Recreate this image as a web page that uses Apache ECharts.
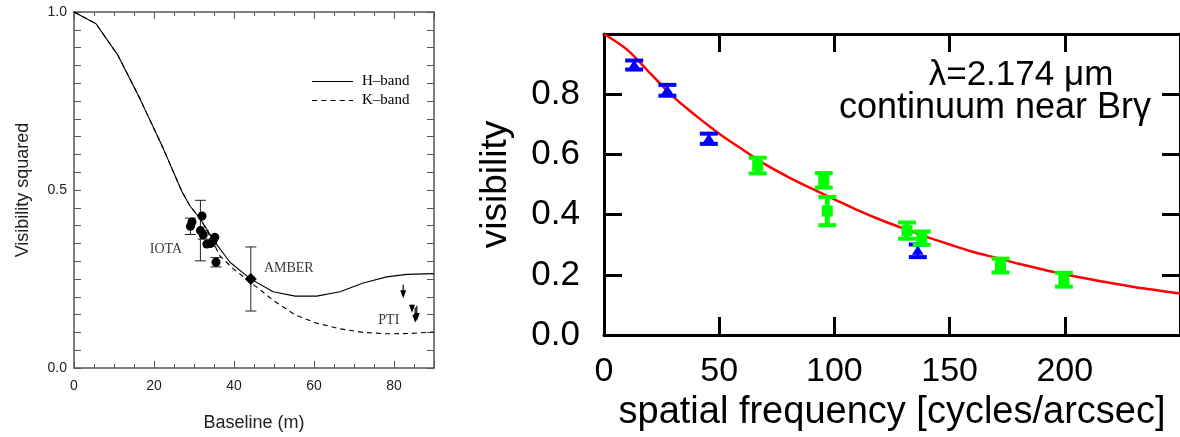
<!DOCTYPE html>
<html>
<head>
<meta charset="utf-8">
<script src="https://cdn.jsdelivr.net/npm/echarts@6/dist/echarts.min.js"></script>
<style>
html,body{margin:0;padding:0;background:#fff;}
#chart{width:1180px;height:437px;}
</style>
</head>
<body>
<div id="chart"></div>
<script>
// ---------- Left panel: visibility squared vs baseline ----------
const hBandBaseline = [0, 5.5, 11, 16.5, 22.3, 24.8, 27.0, 29.0, 31.5, 35, 39, 44, 49.8, 55.3, 60.7, 66.5, 72.3, 78.2, 83.2, 90];
const hBandV2       = [1.0, 0.967, 0.878, 0.756, 0.617, 0.552, 0.495, 0.455, 0.42, 0.357, 0.297, 0.251, 0.214, 0.202, 0.202, 0.214, 0.239, 0.256, 0.263, 0.265];
const kBandBaseline = [0, 5.5, 11, 16.5, 22.3, 24.8, 27.0, 29.0, 31.5, 33.5, 36.5, 39.8, 44, 49.8, 55.3, 60.7, 66.5, 72.3, 78.2, 84, 90];
const kBandV2       = [1.0, 0.967, 0.878, 0.756, 0.617, 0.552, 0.495, 0.455, 0.42, 0.38, 0.315, 0.279, 0.242, 0.19, 0.149, 0.126, 0.11, 0.1, 0.096, 0.097, 0.101];

const iotaBaseline = [29.1, 29.5, 31.6, 32.0, 32.3, 33.2, 34.2, 34.7, 35.2, 35.5];
const iotaV2       = [0.398, 0.41, 0.386, 0.427, 0.374, 0.348, 0.35, 0.356, 0.367, 0.297];
const iotaErr      = [0.023, 0, 0.085, 0, 0.012, 0, 0.008, 0, 0, 0.013];

const amberBaseline = [44.2];
const amberV2       = [0.25];
const amberErr      = [0.09];

const ptiBaseline = [82.3, 84.5, 85.3, 85.7];
const ptiTop      = [0.234, 0.178, 0.170, 0.175];
const ptiLimit    = [0.196, 0.155, 0.127, 0.132];

const leftLabels = ['IOTA', 'AMBER', 'PTI'];
const leftLabelX = [23, 53.7, 78.7];
const leftLabelY = [0.333, 0.281, 0.135];

// ---------- Right panel: visibility vs spatial frequency ----------
const fitFreq = [0, 10, 20, 30, 40, 50, 60, 70, 80, 90, 100, 110, 120, 130, 140, 150, 160, 170, 180, 190, 200, 210, 220, 230, 240, 250];
const fitVis  = [1.0, 0.948, 0.87, 0.792, 0.728, 0.669, 0.617, 0.567, 0.525, 0.487, 0.451, 0.415, 0.383, 0.354, 0.326, 0.301, 0.277, 0.257, 0.237, 0.219, 0.202, 0.187, 0.173, 0.160, 0.149, 0.138];

const blueFreq = [13.1, 27.5, 45.5, 136.2];
const blueVis  = [0.897, 0.813, 0.652, 0.28];
const blueErr  = [0.015, 0.018, 0.017, 0.021];

const greenFreq = [66.7, 95.4, 96.9, 131.5, 137.9, 172.1, 199.6];
const greenVis  = [0.563, 0.514, 0.412, 0.347, 0.322, 0.231, 0.184];
const greenErr  = [0.026, 0.024, 0.047, 0.027, 0.022, 0.023, 0.023];

const annotLine1 = 'λ=2.174 μm';
const annotLine2 = 'continuum near Brγ';

// ---------- helpers ----------
const SANS = 'Liberation Sans, Arial, sans-serif';
const SERIF = 'Liberation Serif, Times New Roman, serif';
const zip = (a, b, c) => a.map((v, i) => c ? [v, b[i], c[i]] : [v, b[i]]);

function leftErrRender(params, api) {
  const x = api.value(0), y = api.value(1), e = api.value(2);
  const c = api.coord([x, y]);
  const kids = [];
  if (e > 0) {
    const hi = api.coord([x, y + e]), lo = api.coord([x, y - e]);
    const hw = 5.5;
    const st = { stroke: '#222', lineWidth: 1 };
    kids.push({ type: 'line', shape: { x1: c[0], y1: hi[1], x2: c[0], y2: lo[1] }, style: st });
    kids.push({ type: 'line', shape: { x1: c[0] - hw, y1: hi[1], x2: c[0] + hw, y2: hi[1] }, style: st });
    kids.push({ type: 'line', shape: { x1: c[0] - hw, y1: lo[1], x2: c[0] + hw, y2: lo[1] }, style: st });
  }
  return { type: 'group', children: kids };
}

function arrowRender(params, api) {
  const x = api.value(0), top = api.value(1), tip = api.value(2);
  const p1 = api.coord([x, top]), p2 = api.coord([x, tip]);
  return {
    type: 'group', children: [
      { type: 'line', shape: { x1: p1[0], y1: p1[1], x2: p2[0], y2: p2[1] - 5 }, style: { stroke: '#000', lineWidth: 1.2 } },
      { type: 'polygon', shape: { points: [[p2[0] - 3, p2[1] - 8], [p2[0] + 3, p2[1] - 8], [p2[0], p2[1]]] }, style: { fill: '#000' } }
    ]
  };
}

function rightErr(kind, color) {
  return function (params, api) {
    const x = api.value(0), y = api.value(1), e = api.value(2);
    const c = api.coord([x, y]), hi = api.coord([x, y + e]), lo = api.coord([x, y - e]);
    const hw = 9;
    const kids = [
      { type: 'line', shape: { x1: c[0], y1: hi[1], x2: c[0], y2: lo[1] }, style: { stroke: color, lineWidth: kind === 'square' ? 5 : 3 } },
      { type: 'line', shape: { x1: c[0] - hw, y1: hi[1], x2: c[0] + hw, y2: hi[1] }, style: { stroke: color, lineWidth: 4 } },
      { type: 'line', shape: { x1: c[0] - hw, y1: lo[1], x2: c[0] + hw, y2: lo[1] }, style: { stroke: color, lineWidth: 4 } }
    ];
    if (kind === 'square') {
      kids.push({ type: 'rect', shape: { x: c[0] - 5.5, y: c[1] - 5.5, width: 11, height: 11 }, style: { fill: color } });
    } else {
      kids.push({ type: 'polygon', shape: { points: [[c[0] - 6, c[1] + 4], [c[0] + 6, c[1] + 4], [c[0], c[1] - 5]] }, style: { fill: color } });
    }
    return { type: 'group', children: kids };
  };
}

const LGRAY = '#555';
function leftX(position, interval, tickLen, showLine, showLabel, extra) {
  return Object.assign({
    gridIndex: 0, type: 'value', min: 0, max: 90, interval: interval, position: position,
    axisLine: { show: showLine, onZero: false, lineStyle: { color: LGRAY, width: 1.5 } },
    axisTick: { show: true, inside: true, length: tickLen, lineStyle: { color: LGRAY, width: 1 } },
    axisLabel: {
      show: showLabel, margin: 11, color: '#222', fontFamily: SANS, fontSize: 14, showMaxLabel: false,
      formatter: v => (Math.round(v) % 20 === 0 ? String(Math.round(v)) : '')
    },
    splitLine: { show: false }
  }, extra || {});
}
function leftY(position, showLabel, extra) {
  return Object.assign({
    gridIndex: 0, type: 'value', min: 0, max: 1, interval: 0.05, position: position,
    axisLine: { show: true, onZero: false, lineStyle: { color: LGRAY, width: 1.5 } },
    axisTick: { show: true, inside: true, length: 7, lineStyle: { color: LGRAY, width: 1 } },
    axisLabel: {
      show: showLabel, margin: 7, color: '#222', fontFamily: SANS, fontSize: 14,
      formatter: v => { const r = Math.round(v * 100); return r % 50 === 0 ? (r / 100).toFixed(1) : ''; }
    },
    splitLine: { show: false }
  }, extra || {});
}
function rightX(position, showLabel, extra) {
  return Object.assign({
    gridIndex: 1, type: 'value', min: 0, max: 250, interval: 50, position: position,
    axisLine: { show: true, onZero: false, lineStyle: { color: '#000', width: 3 } },
    axisTick: { show: true, inside: true, length: 18, lineStyle: { color: '#000', width: 3 } },
    axisLabel: { show: showLabel, margin: 20, color: '#000', fontFamily: SANS, fontSize: 34, showMaxLabel: false },
    splitLine: { show: false }
  }, extra || {});
}
function rightY(position, showLabel, extra) {
  return Object.assign({
    gridIndex: 1, type: 'value', min: 0, max: 1, interval: 0.2, position: position,
    axisLine: { show: true, onZero: false, lineStyle: { color: '#000', width: 3 } },
    axisTick: { show: true, inside: true, length: 18, lineStyle: { color: '#000', width: 3 } },
    axisLabel: { show: showLabel, margin: 24, color: '#000', fontFamily: SANS, fontSize: 35, showMaxLabel: false, formatter: v => v.toFixed(1) },
    splitLine: { show: false }
  }, extra || {});
}

const solidIcon = 'path://M0,0H40V1H0Z';
const dashedIcon = 'path://M0,0H5V1H0Z M9,0H14V1H9Z M18,0H23V1H18Z M27,0H32V1H27Z M36,0H40V1H36Z';

const option = {
  animation: false,
  backgroundColor: '#fff',
  grid: [
    { left: 74, top: 12, width: 360, height: 360, containLabel: false },
    { left: 604, top: 34, width: 579, height: 305, containLabel: false }
  ],
  legend: {
    data: [{ name: 'H–band', icon: solidIcon }, { name: 'K–band', icon: dashedIcon }],
    orient: 'vertical', left: 312, top: 74,
    itemWidth: 41, itemHeight: 1.2, itemGap: 4, padding: 0,
    itemStyle: { color: '#000', borderWidth: 0 },
    textStyle: { fontFamily: SERIF, fontSize: 15, color: '#000', padding: [0, 0, 0, 4] },
    selectedMode: false
  },
  xAxis: [
    leftX('bottom', 5, 4, true, true, { name: 'Baseline (m)', nameLocation: 'middle', nameGap: 46, nameTextStyle: { fontFamily: SANS, fontSize: 18, color: '#222' } }),
    leftX('bottom', 20, 7, false, false),
    leftX('top', 5, 4, true, false),
    leftX('top', 20, 7, false, false),
    rightX('bottom', true, { name: 'spatial frequency [cycles/arcsec]', nameLocation: 'middle', nameGap: 51, nameTextStyle: { fontFamily: SANS, fontSize: 38, color: '#000' } }),
    rightX('top', false)
  ],
  yAxis: [
    leftY('left', true, { name: 'Visibility squared', nameLocation: 'middle', nameGap: 42, nameRotate: 90, nameTextStyle: { fontFamily: SANS, fontSize: 18, color: '#222' } }),
    leftY('right', false),
    rightY('left', true, { name: 'visibility', nameLocation: 'middle', nameGap: 90, nameRotate: 90, nameTextStyle: { fontFamily: SANS, fontSize: 37, color: '#000' } }),
    rightY('right', false)
  ],
  graphic: [
    { type: 'text', style: { text: annotLine1, x: 1021, y: 75, textAlign: 'center', textVerticalAlign: 'middle', font: '35px ' + SANS, fill: '#000' } },
    { type: 'text', style: { text: annotLine2, x: 995, y: 108, textAlign: 'center', textVerticalAlign: 'middle', font: '36px ' + SANS, fill: '#000' } }
  ],
  series: [
    {
      name: 'H–band', type: 'line', xAxisIndex: 0, yAxisIndex: 0, data: zip(hBandBaseline, hBandV2),
      symbol: 'none', lineStyle: { color: '#000', width: 1.1 }, itemStyle: { color: '#000' }, z: 3
    },
    {
      name: 'K–band', type: 'line', xAxisIndex: 0, yAxisIndex: 0, data: zip(kBandBaseline, kBandV2),
      symbol: 'none', lineStyle: { color: '#000', width: 1.1, type: [5, 4] }, itemStyle: { color: '#000' }, z: 3
    },
    {
      name: 'IOTA errors', type: 'custom', xAxisIndex: 0, yAxisIndex: 0, renderItem: leftErrRender,
      data: zip(iotaBaseline, iotaV2, iotaErr), encode: { x: 0, y: 1 }, z: 4
    },
    {
      name: 'IOTA', type: 'scatter', xAxisIndex: 0, yAxisIndex: 0, data: zip(iotaBaseline, iotaV2),
      symbol: 'circle', symbolSize: 9, itemStyle: { color: '#000', opacity: 1 }, z: 5
    },
    {
      name: 'AMBER errors', type: 'custom', xAxisIndex: 0, yAxisIndex: 0, renderItem: leftErrRender,
      data: zip(amberBaseline, amberV2, amberErr), encode: { x: 0, y: 1 }, z: 4
    },
    {
      name: 'AMBER', type: 'scatter', xAxisIndex: 0, yAxisIndex: 0, data: zip(amberBaseline, amberV2),
      symbol: 'diamond', symbolSize: [12, 12], itemStyle: { color: '#000', opacity: 1 }, z: 5
    },
    {
      name: 'PTI', type: 'custom', xAxisIndex: 0, yAxisIndex: 0, renderItem: arrowRender,
      data: zip(ptiBaseline, ptiTop, ptiLimit), encode: { x: 0, y: [1, 2] }, z: 5
    },
    {
      name: 'labels', type: 'scatter', xAxisIndex: 0, yAxisIndex: 0, symbolSize: 1,
      itemStyle: { color: 'rgba(0,0,0,0)' },
      data: leftLabels.map((n, i) => ({ name: n, value: [leftLabelX[i], leftLabelY[i]] })),
      label: { show: true, position: 'inside', formatter: p => p.name, fontFamily: SERIF, fontSize: 14, color: '#000' },
      z: 6
    },
    {
      name: 'fit', type: 'line', xAxisIndex: 4, yAxisIndex: 2, data: zip(fitFreq, fitVis),
      symbol: 'none', smooth: 0.3, lineStyle: { color: '#ff0000', width: 2.5 }, z: 3
    },
    {
      name: 'blue', type: 'custom', xAxisIndex: 4, yAxisIndex: 2, renderItem: rightErr('triangle', '#0000ff'),
      data: zip(blueFreq, blueVis, blueErr), encode: { x: 0, y: 1 }, z: 4
    },
    {
      name: 'green', type: 'custom', xAxisIndex: 4, yAxisIndex: 2, renderItem: rightErr('square', '#00ff00'),
      data: zip(greenFreq, greenVis, greenErr), encode: { x: 0, y: 1 }, z: 4
    }
  ]
};

const chart = echarts.init(document.getElementById('chart'), null, { renderer: 'canvas' });
chart.setOption(option);
</script>
</body>
</html>
